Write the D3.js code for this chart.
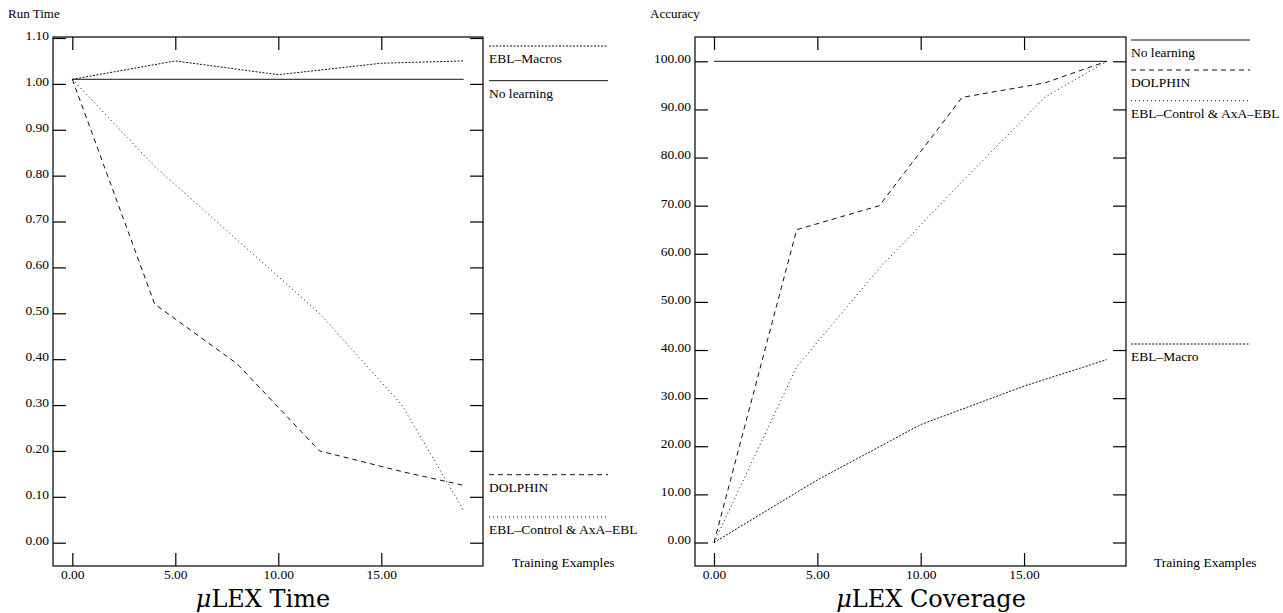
<!DOCTYPE html>
<html>
<head>
<meta charset="utf-8">
<script src="https://cdn.jsdelivr.net/npm/d3@7"></script>
<style>
  body { margin: 0; background: #fff; }
  text { font-family: "Liberation Serif", "Times New Roman", serif; fill: #000; }
</style>
</head>
<body>
<script>
// ---- data ----
var timeTicksY = [0, 0.1, 0.2, 0.3, 0.4, 0.5, 0.6, 0.7, 0.8, 0.9, 1.0, 1.1];
var coverageTicksY = [0, 10, 20, 30, 40, 50, 60, 70, 80, 90, 100];
var examplesTicksX = [0, 5, 10, 15];

var noLearningX = [0, 19];
var stepX = [0, 4, 8, 12, 16, 19];
var macroX = [0, 5, 10, 15, 19];

// uLEX Time
var timeNoLearning = [1.01, 1.01];
var timeMacros = [1.01, 1.05, 1.02, 1.045, 1.05];
var timeDolphin = [1.01, 0.52, 0.39, 0.20, 0.155, 0.125];
var timeControl = [1.01, 0.82, 0.66, 0.50, 0.30, 0.07];

// uLEX Coverage
var covNoLearning = [100, 100];
var covDolphin = [0, 65, 70, 92.5, 95.5, 100];
var covControl = [0, 36.5, 57, 75, 92.5, 100];
var covMacro = [0, 13, 24.5, 32.5, 38];

var dashStyles = {
    solid: null,
    dashed: '5,4',
    sparse: '1,3',
    dense: '2,1.5'
};

var svg = d3.select('body')
    .append('svg')
    .attr('width', 1283)
    .attr('height', 613);

function drawPanel(p) {
    var g = svg.append('g');

    var x = d3.scaleLinear().domain([0, 20]).range(p.xRange);
    var y = d3.scaleLinear().domain(p.yDomain).range(p.yRange);

    // frame
    g.append('rect')
        .attr('x', p.left)
        .attr('y', p.top)
        .attr('width', p.right - p.left)
        .attr('height', p.bottom - p.top)
        .attr('fill', 'none')
        .attr('stroke', '#000')
        .attr('stroke-width', 1.2);

    var fmt = d3.format('.2f');

    g.append('g')
        .attr('class', 'ax')
        .attr('transform', 'translate(' + p.left + ',0)')
        .call(d3.axisLeft(y).tickValues(p.yTicks).tickSize(-13).tickPadding(4).tickFormat(fmt));

    g.append('g')
        .attr('class', 'ax')
        .attr('transform', 'translate(' + p.right + ',0)')
        .call(d3.axisRight(y).tickValues(p.yTicks).tickSize(-13).tickFormat(''));

    g.append('g')
        .attr('class', 'ax')
        .attr('transform', 'translate(0,' + p.bottom + ')')
        .call(d3.axisBottom(x).tickValues(examplesTicksX).tickSize(-13).tickPadding(3).tickFormat(fmt));

    g.append('g')
        .attr('class', 'ax')
        .attr('transform', 'translate(0,' + p.top + ')')
        .call(d3.axisTop(x).tickValues(examplesTicksX).tickSize(-13).tickFormat(''));

    g.selectAll('.ax .domain').remove();
    g.selectAll('.ax')
        .attr('font-size', 13.5)
        .attr('font-family', '"Liberation Serif", serif');
    g.selectAll('.tick line').attr('stroke', '#000').attr('stroke-width', 1.2);
    g.selectAll('.tick text').attr('font-size', 13.5);
    g.selectAll('.tick text').filter(function() { return this.getAttribute('dy') === '0.32em'; })
        .attr('dy', '0.1em');

    var line = d3.line()
        .x(function(d) { return x(d[0]); })
        .y(function(d) { return y(d[1]); });

    p.series.forEach(function(s) {
        g.append('path')
            .datum(d3.zip(s.x, s.y))
            .attr('d', line)
            .attr('fill', 'none')
            .attr('stroke', '#111')
            .attr('stroke-width', 1)
            .attr('stroke-dasharray', dashStyles[s.style]);

        // legend entry
        g.append('line')
            .attr('x1', p.legendX)
            .attr('x2', p.legendX + 119)
            .attr('y1', s.legendY)
            .attr('y2', s.legendY)
            .attr('stroke', '#111')
            .attr('stroke-width', 1)
            .attr('stroke-dasharray', dashStyles[s.style]);
        g.append('text')
            .attr('x', p.legendX)
            .attr('y', s.legendY + 17)
            .style('font-size', '13.5px')
            .text(s.name);
    });

    g.append('text')
        .attr('x', p.left - 45)
        .attr('y', 18)
        .style('font-size', '13px')
        .text(p.yLabel);

    g.append('text')
        .attr('x', p.xLabelX)
        .attr('y', 567)
        .style('font-size', '13.5px')
        .text('Training Examples');

    var title = g.append('text')
        .attr('x', p.titleX)
        .attr('y', 607)
        .attr('text-anchor', 'middle')
        .style('font-family', '"DejaVu Serif", serif')
        .style('font-size', '24px');
    title.append('tspan').style('font-style', 'italic').style('font-family', '"DejaVu Serif", serif').text('\u03bc');
    title.append('tspan').style('font-family', '"DejaVu Serif", serif').text(p.title);
}

drawPanel({
    left: 53, right: 483, top: 37, bottom: 566,
    xRange: [72.3, 484.3],
    yDomain: [0, 1.1], yRange: [542.7, 38],
    yTicks: timeTicksY,
    yLabel: 'Run Time',
    xLabelX: 512,
    legendX: 489,
    titleX: 263,
    title: 'LEX Time',
    series: [
        { name: 'EBL\u2013Macros', x: macroX, y: timeMacros, style: 'dense', legendY: 46 },
        { name: 'No learning', x: noLearningX, y: timeNoLearning, style: 'solid', legendY: 80.7 },
        { name: 'DOLPHIN', x: stepX, y: timeDolphin, style: 'dashed', legendY: 474.7 },
        { name: 'EBL\u2013Control & AxA\u2013EBL', x: stepX, y: timeControl, style: 'sparse', legendY: 517 }
    ]
});

drawPanel({
    left: 695, right: 1126, top: 37, bottom: 566,
    xRange: [714, 1127.4],
    yDomain: [0, 100], yRange: [542.5, 61.3],
    yTicks: coverageTicksY,
    yLabel: 'Accuracy',
    xLabelX: 1154,
    legendX: 1131,
    titleX: 931,
    title: 'LEX Coverage',
    series: [
        { name: 'No learning', x: noLearningX, y: covNoLearning, style: 'solid', legendY: 40 },
        { name: 'DOLPHIN', x: stepX, y: covDolphin, style: 'dashed', legendY: 70 },
        { name: 'EBL\u2013Control & AxA\u2013EBL', x: stepX, y: covControl, style: 'sparse', legendY: 100.7 },
        { name: 'EBL\u2013Macro', x: macroX, y: covMacro, style: 'dense', legendY: 344 }
    ]
});
</script>
</body>
</html>
